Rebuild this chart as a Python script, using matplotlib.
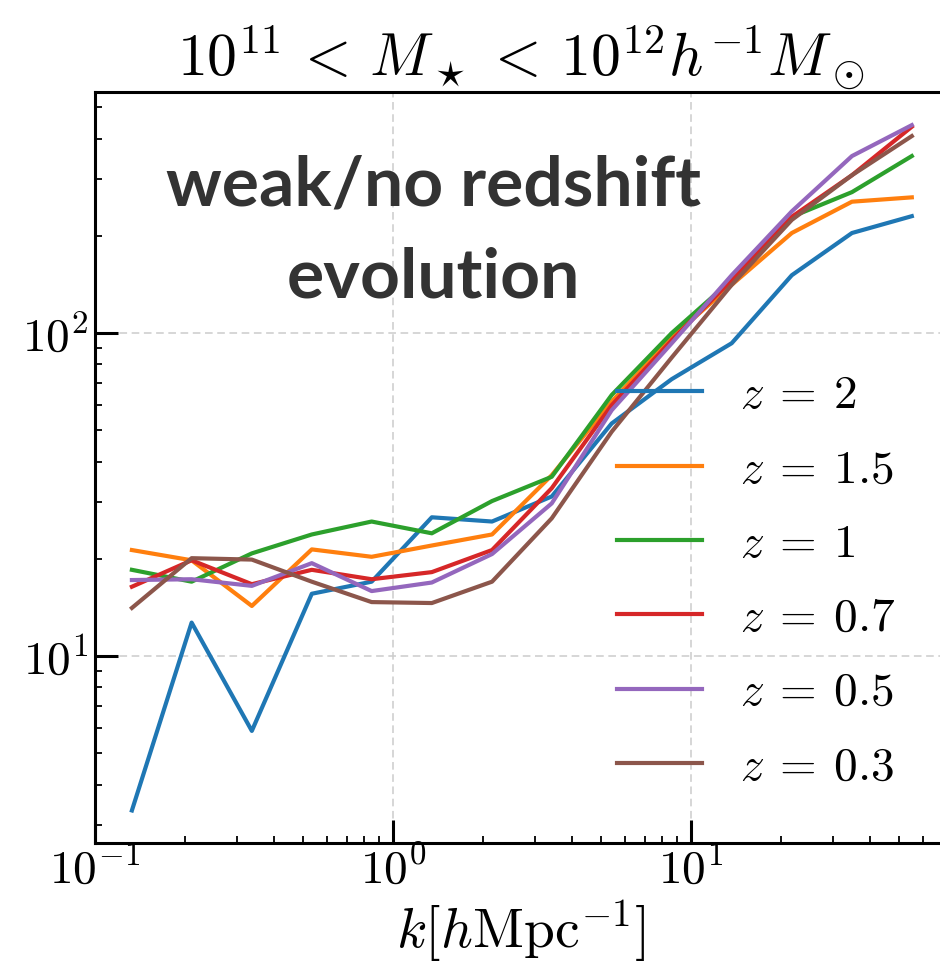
import numpy as np
import matplotlib
matplotlib.use("Agg")
import matplotlib.pyplot as plt
from matplotlib.ticker import FuncFormatter, LogLocator, NullFormatter

# Wavenumber bins [h/Mpc]
k = [0.133, 0.211, 0.336, 0.534, 0.848, 1.35, 2.15, 3.41, 5.42, 8.62, 13.7, 21.8, 34.7, 55.1]

# Ratio for each redshift snapshot
z_labels = ["2", "1.5", "1", "0.7", "0.5", "0.3"]
ratio_z2 = [3.33, 12.7, 5.87, 15.6, 17.0, 26.9, 26.1, 31.2, 52.5, 72, 93, 151, 204, 230]
ratio_z15 = [21.3, 19.8, 14.3, 21.4, 20.3, 22.0, 23.8, 36.3, 61.3, 97, 141, 204, 255, 263]
ratio_z1 = [18.5, 17.0, 20.8, 23.8, 26.1, 24.0, 30.2, 35.9, 64.3, 100, 146, 229, 273, 353]
ratio_z07 = [16.4, 19.8, 16.7, 18.5, 17.3, 18.2, 21.3, 33.1, 59.8, 95, 146, 229, 308, 435]
ratio_z05 = [17.2, 17.3, 16.5, 19.4, 15.9, 16.9, 20.7, 29.7, 57.7, 93, 151, 238, 353, 440]
ratio_z03 = [14.1, 20.1, 19.9, 17.0, 14.7, 14.6, 17.0, 26.7, 49.5, 84, 141, 224, 308, 407]

series = [ratio_z2, ratio_z15, ratio_z1, ratio_z07, ratio_z05, ratio_z03]
colors = ["#1f77b4", "#ff7f0e", "#2ca02c", "#d62728", "#9467bd", "#8c564b"]

plt.rcParams["mathtext.fontset"] = "cm"

fig = plt.figure(figsize=(9.4, 9.65), dpi=100)
ax = fig.add_axes([95 / 940, 0.1264, 0.905, 0.7782])

for vals, lab, c in zip(series, z_labels, colors):
    ax.plot(k, vals, color=c, lw=3, label=rf"$z\:=\:{lab}$")

ax.set_xscale("log")
ax.set_yscale("log")
ax.set_xlim(0.1, 71.6)
ax.set_ylim(2.64, 557)

ax.grid(True, which="major", ls=(0, (5, 3)), color="#cccccc", lw=1.1)
ax.set_axisbelow(True)

dec_fmt = FuncFormatter(lambda v, pos: rf"$10^{{{int(round(np.log10(v)))}}}$")
for axis in (ax.xaxis, ax.yaxis):
    axis.set_major_locator(LogLocator(base=10))
    axis.set_minor_locator(LogLocator(base=10, subs=np.arange(2, 10)))
    axis.set_major_formatter(dec_fmt)
    axis.set_minor_formatter(NullFormatter())

ax.tick_params(which="major", direction="in", length=16.5, width=2.2,
               labelsize=34, top=False, right=False)
ax.tick_params(axis="x", which="major", pad=3)
ax.tick_params(axis="y", which="major", pad=5)
ax.tick_params(which="minor", direction="in", length=5, width=1.3,
               top=False, right=False)
for sp in ax.spines.values():
    sp.set_linewidth(2.2)

ax.set_title(r"$10^{11}\,<\,M_\star\,<\,10^{12} h^{-1} M_\odot$", fontsize=43, pad=12)
ax.set_xlabel(r"$k[h\mathrm{Mpc}^{-1}]$", fontsize=40, labelpad=4)

fig.text(433 / 940, 1 - 232 / 965, "weak/no redshift\nevolution",
         ha="center", va="center", fontsize=50, fontweight="bold",
         family="Lato", color="#333333", linespacing=1.55)

ax.legend(loc="upper left", bbox_to_anchor=(617 / 940, 1 - 373 / 965),
          bbox_transform=fig.transFigure, frameon=False, fontsize=34,
          handlelength=1.8, handletextpad=0.8, labelspacing=0.62,
          borderpad=0, borderaxespad=0)

fig.savefig("out.png", dpi=100)
